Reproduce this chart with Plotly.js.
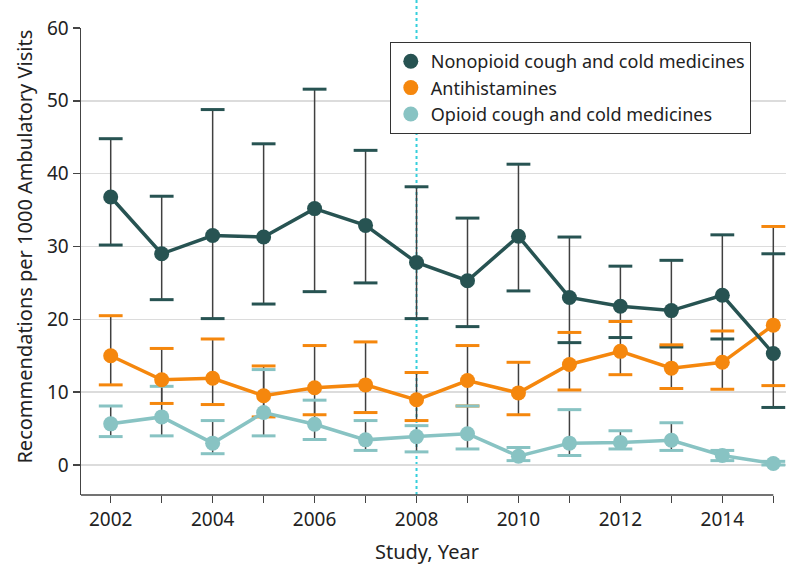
<!DOCTYPE html>
<html>
<head>
<meta charset="utf-8">
<script src="https://cdn.plot.ly/plotly-3.0.1.min.js"></script>
<style>html,body{margin:0;padding:0;background:#fff;}#chart{width:794px;height:580px;}</style>
</head>
<body>
<div id="chart"></div>
<script>
var years = [2002,2003,2004,2005,2006,2007,2008,2009,2010,2011,2012,2013,2014,2015];
var tickLabels = ['2002','','2004','','2006','','2008','','2010','','2012','','2014',''];

var nonopioid      = [36.8, 29.0, 31.5, 31.3, 35.2, 32.9, 27.8, 25.3, 31.4, 23.0, 21.8, 21.2, 23.3, 15.3];
var nonopioidUpper = [44.8, 36.9, 48.8, 44.1, 51.6, 43.2, 38.2, 33.9, 41.3, 31.3, 27.3, 28.1, 31.6, 29.0];
var nonopioidLower = [30.2, 22.7, 20.1, 22.1, 23.8, 25.0, 20.1, 19.0, 23.9, 16.8, 17.5, 16.2, 17.3, 7.9];

var antihist      = [15.0, 11.7, 11.9, 9.5, 10.6, 11.0, 8.95, 11.6, 9.9, 13.8, 15.6, 13.3, 14.1, 19.2];
var antihistUpper = [20.5, 16.0, 17.3, 13.6, 16.4, 16.9, 12.7, 16.4, 14.1, 18.2, 19.7, 16.5, 18.4, 32.75];
var antihistLower = [11.0, 8.45, 8.3, 6.6, 6.9, 7.2, 6.1, 8.1, 6.9, 10.3, 12.4, 10.5, 10.4, 10.9];

var opioid      = [5.65, 6.6, 3.0, 7.2, 5.6, 3.45, 3.9, 4.3, 1.2, 3.0, 3.1, 3.4, 1.3, 0.2];
var opioidUpper = [8.1, 10.8, 6.1, 13.1, 8.9, 6.1, 5.4, 8.1, 2.4, 7.6, 4.7, 5.8, 2.0, 0.5];
var opioidLower = [3.9, 4.0, 1.55, 4.0, 3.5, 2.0, 1.8, 2.2, 0.6, 1.3, 2.2, 2.0, 0.6, 0.0];

var names = ['Nonopioid cough and cold medicines', 'Antihistamines', 'Opioid cough and cold medicines'];
var colors = ['#275352', '#f5870d', '#88c3c3'];
var yTitle = 'Recommendations per 1000 Ambulatory Visits';
var xTitle = 'Study, Year';

var FONT = 'Noto Sans, Open Sans, sans-serif';
var series = [
  {v: nonopioid, u: nonopioidUpper, l: nonopioidLower, c: colors[0], n: names[0], rank: 1},
  {v: antihist, u: antihistUpper, l: antihistLower, c: colors[1], n: names[1], rank: 2},
  {v: opioid, u: opioidUpper, l: opioidLower, c: colors[2], n: names[2], rank: 3}
];

var traces = [];
// stems
series.forEach(function(s){
  traces.push({
    x: years, y: s.v, type: 'scatter', mode: 'markers',
    marker: {size: 1, opacity: 0}, showlegend: false, hoverinfo: 'skip', cliponaxis: false,
    error_y: {type: 'data', symmetric: false,
      array: s.u.map(function(u,i){return u - s.v[i];}),
      arrayminus: s.l.map(function(l,i){return s.v[i] - l;}),
      color: '#404040', thickness: 1.5, width: 0}
  });
});
// caps
series.forEach(function(s){
  traces.push({
    x: years.concat(years), y: s.u.concat(s.l), type: 'scatter', mode: 'markers',
    marker: {symbol: 'line-ew', size: 17, color: s.c, line: {color: s.c, width: 3}},
    showlegend: false, hoverinfo: 'skip', cliponaxis: false
  });
});
// lines (opioid first so nonopioid ends up on top)
series.slice().reverse().forEach(function(s){
  traces.push({
    x: years, y: s.v, type: 'scatter', mode: 'lines',
    line: {color: s.c, width: 3.5}, showlegend: false, hoverinfo: 'skip', cliponaxis: false
  });
});
// markers + legend
series.slice().reverse().forEach(function(s){
  traces.push({
    x: years, y: s.v, type: 'scatter', mode: 'markers', name: s.n, legendrank: s.rank,
    marker: {size: 15, color: s.c}, cliponaxis: false
  });
});

var layout = {
  width: 794, height: 580,
  margin: {l: 81, r: 8, t: 28, b: 85},
  paper_bgcolor: '#ffffff', plot_bgcolor: '#ffffff',
  font: {family: FONT, size: 18, color: '#222222'},
  showlegend: true,
  legend: {
    x: 0.438, y: 0.970, xanchor: 'left', yanchor: 'top',
    bgcolor: '#ffffff', bordercolor: '#333333', borderwidth: 1,
    font: {family: FONT, size: 18, color: '#222222'},
    traceorder: 'normal'
  },
  xaxis: {
    range: [2001.417, 2015.249],
    tickvals: years, ticktext: tickLabels,
    ticks: 'outside', ticklen: 7, tickwidth: 1.5, tickcolor: '#444444',
    showgrid: false, zeroline: false, showline: false,
    tickfont: {family: FONT, size: 19, color: '#222222'}
  },
  yaxis: {
    range: [-4.12, 60],
    tickvals: [0,10,20,30,40,50,60],
    ticks: 'outside', ticklen: 7, tickwidth: 1.5, tickcolor: '#444444',
    showgrid: true, gridcolor: '#dcdcdc', gridwidth: 1.5,
    zeroline: false, showline: true, linecolor: '#444444', linewidth: 1.5,
    tickfont: {family: FONT, size: 19, color: '#222222'}
  },
  shapes: [
    {type: 'line', xref: 'x', yref: 'paper', x0: 2008, x1: 2008, y0: 0, y1: 1.06,
     line: {color: '#35cfdc', width: 2, dash: 'dot'}, layer: 'below'},
    {type: 'line', xref: 'x', yref: 'paper', x0: 2001.417, x1: 2015, y0: 0, y1: 0,
     line: {color: '#444444', width: 1.5}, layer: 'above'}
  ],
  annotations: [
    {text: xTitle, xref: 'paper', yref: 'paper', x: 0.491, y: -0.12,
     xanchor: 'center', yanchor: 'middle', showarrow: false,
     font: {family: FONT, size: 20, color: '#222222'}},
    {text: yTitle, xref: 'paper', yref: 'paper', x: -0.0794, y: 0.532, textangle: -90,
     xanchor: 'center', yanchor: 'middle', showarrow: false,
     font: {family: FONT, size: 20, color: '#222222'}}
  ]
};

Plotly.newPlot('chart', traces, layout, {displayModeBar: false, staticPlot: true});
</script>
</body>
</html>
